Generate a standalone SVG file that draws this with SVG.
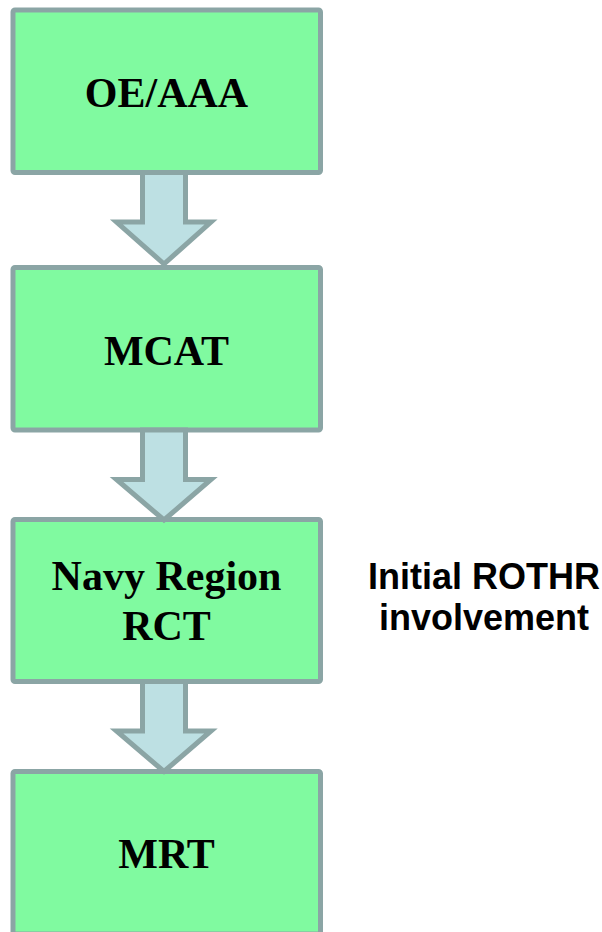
<svg xmlns="http://www.w3.org/2000/svg" width="602" height="932" viewBox="0 0 602 932">
<style>
.box{fill:#80FAA0;stroke:#8BA5A5;stroke-width:5}
.arr{fill:#BDE0E3;stroke:#8BA5A5;stroke-width:5;stroke-linejoin:miter}
.lbl{font-family:"Liberation Serif","Times New Roman",serif;font-weight:bold;font-size:42px;fill:#000;text-anchor:middle}
.note{font-family:"Liberation Sans",Arial,sans-serif;font-weight:bold;font-size:36px;fill:#000;text-anchor:middle}
</style>
<rect width="602" height="932" fill="#fff"/>
<g id="node-oeaaa">
<rect class="box" x="13" y="10" width="307.5" height="162.5" rx="2"/>
<text class="lbl" x="166.5" y="107">OE/AAA</text>
</g>
<g id="node-mcat">
<rect class="box" x="13" y="267.5" width="307.5" height="162.5" rx="2"/>
<text class="lbl" x="166.5" y="365">MCAT</text>
</g>
<g id="node-navy">
<rect class="box" x="13" y="519.5" width="307.5" height="162" rx="2"/>
<text class="lbl" x="166.5" y="590">Navy Region</text>
<text class="lbl" x="166.5" y="640">RCT</text>
</g>
<g id="node-mrt">
<rect class="box" x="13" y="771.5" width="307.5" height="162.5" rx="2"/>
<text class="lbl" x="166.5" y="868">MRT</text>
</g>
<g id="connectors">
<polygon class="arr" points="142.5,172.5 185.5,172.5 185.5,222 211,222 164,264 116.5,222 142.5,222"/>
<polygon class="arr" points="142.5,430 185.5,430 185.5,479.5 211,479.5 164,520 116.5,479.5 142.5,479.5"/>
<polygon class="arr" points="142.5,681.5 185.5,681.5 185.5,731 211,731 164,771.5 116.5,731 142.5,731"/>
</g>
<g id="note">
<text class="note" x="484" y="589">Initial ROTHR</text>
<text class="note" x="484" y="630">involvement</text>
</g>
</svg>
